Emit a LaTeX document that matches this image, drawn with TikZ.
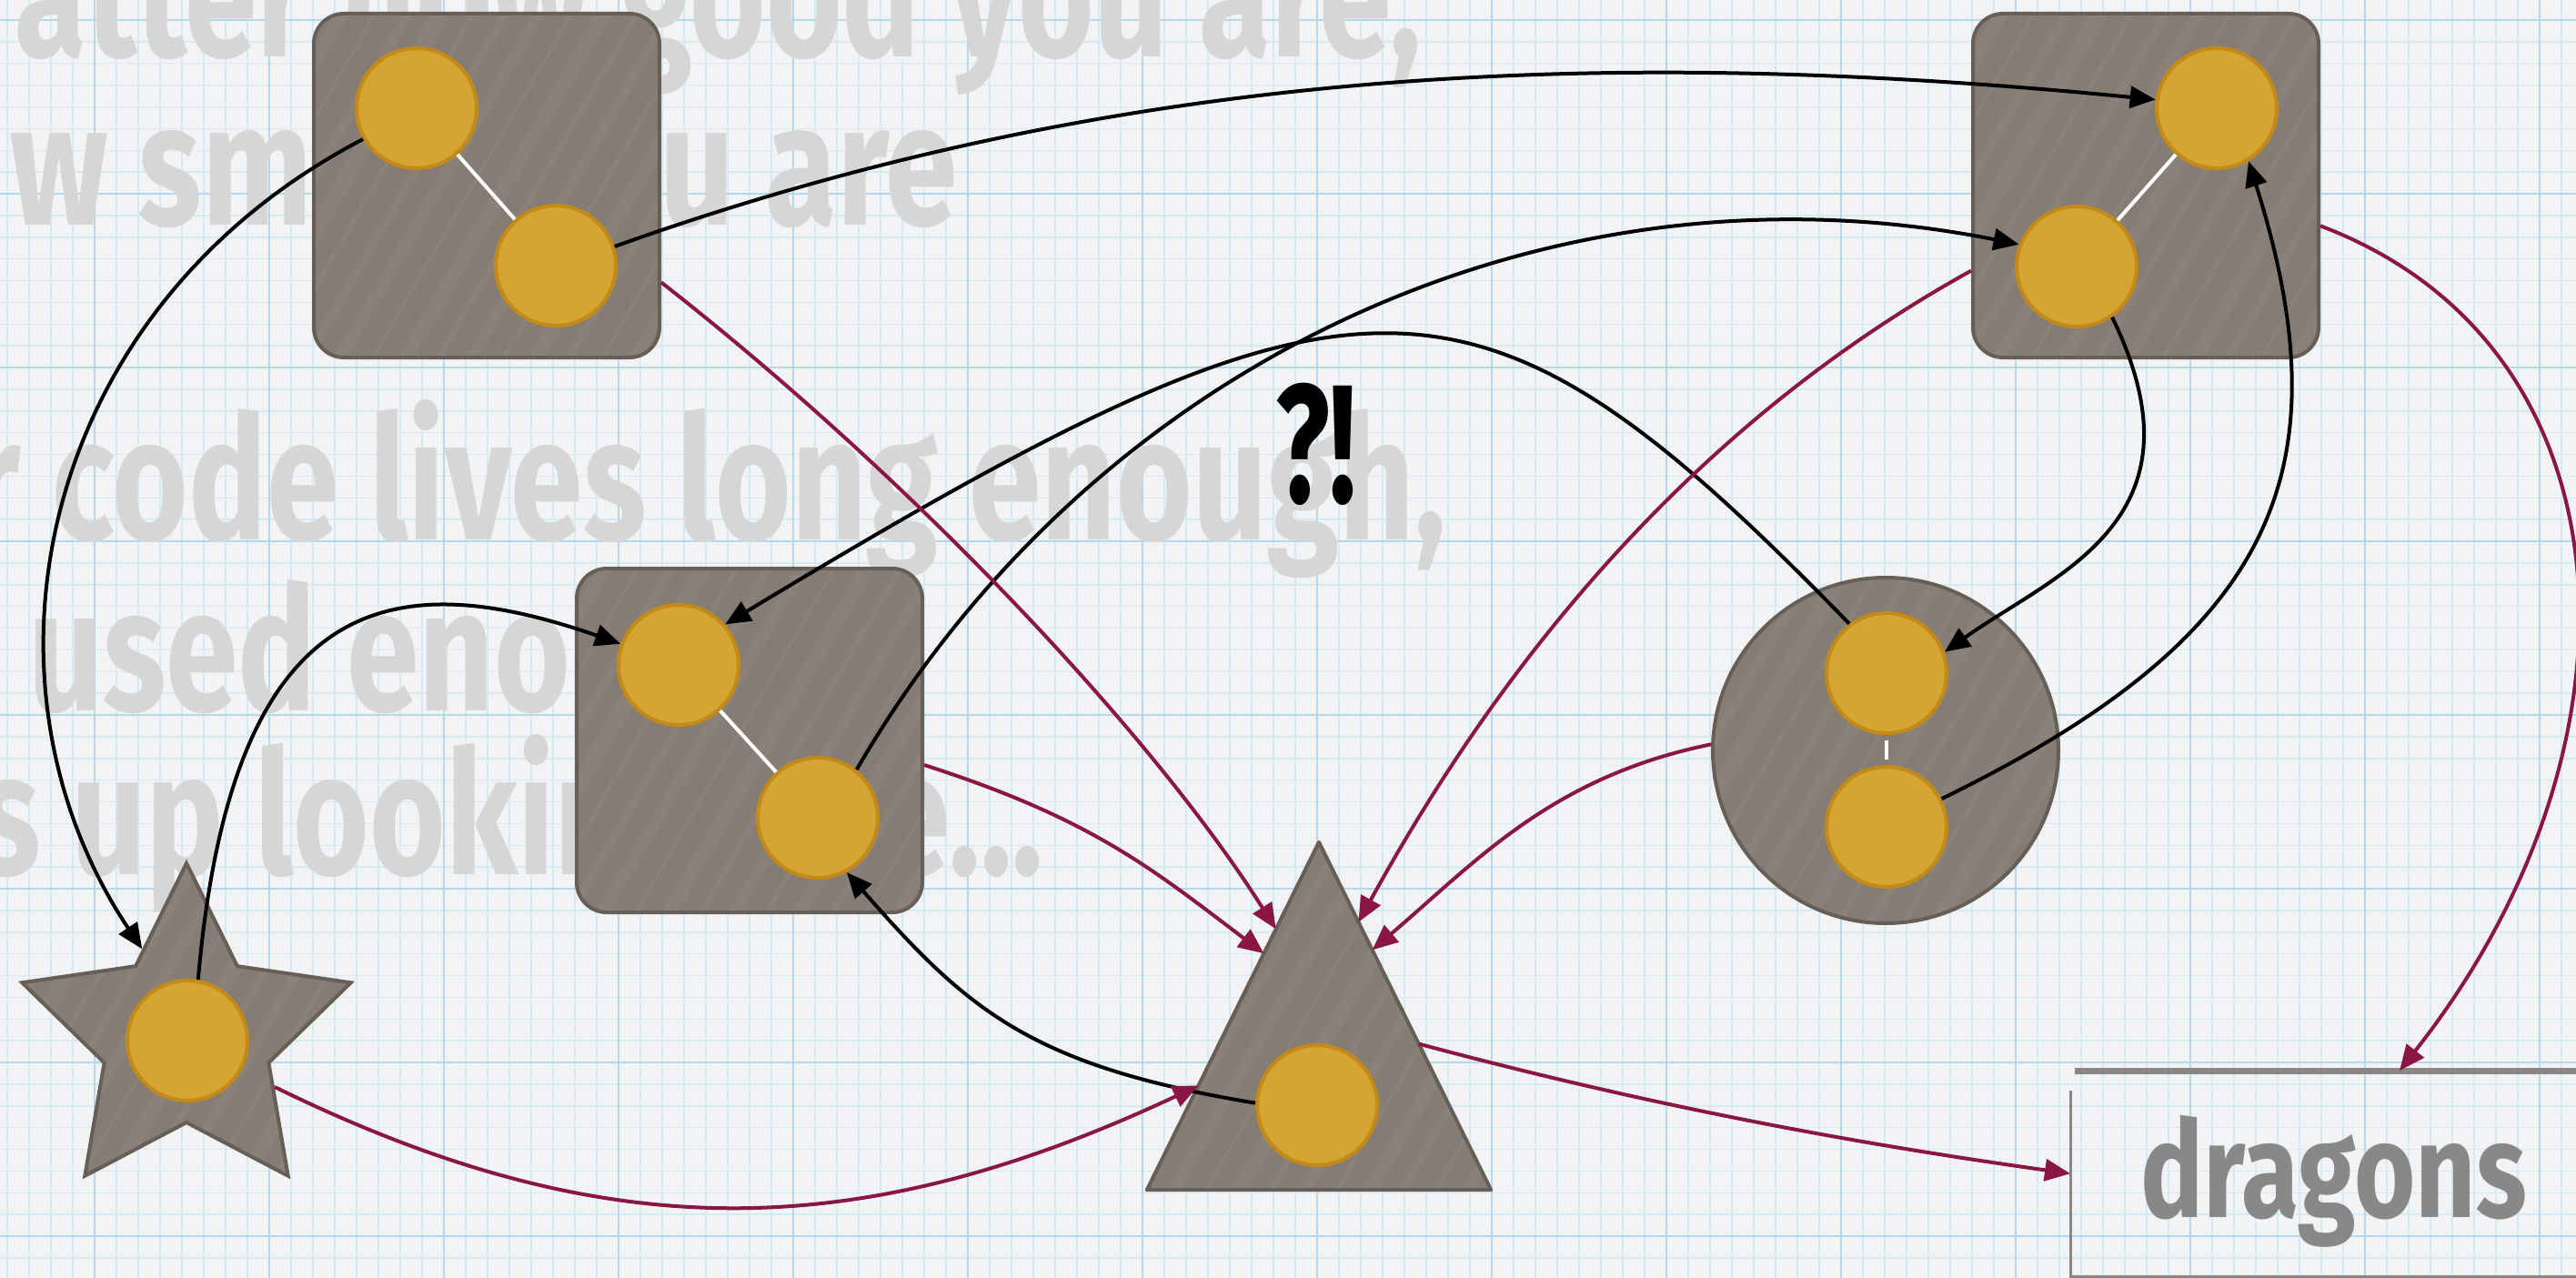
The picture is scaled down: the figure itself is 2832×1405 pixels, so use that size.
\documentclass[tikz,border=0pt]{standalone}
\usepackage{fontspec}
\newfontfamily\handfont{Fira Sans}
\usetikzlibrary{arrows.meta,shapes.geometric,calc}
\definecolor{paper}{HTML}{F1F3F4}
\definecolor{gridminor}{HTML}{D6EAF3}
\definecolor{gridmajor}{HTML}{B4D9EC}
\definecolor{bgtext}{HTML}{D6D6D6}
\definecolor{boxfill}{HTML}{857D74}
\definecolor{boxline}{HTML}{675F56}
\definecolor{gold}{HTML}{D4A532}
\definecolor{goldline}{HTML}{C38A17}
\definecolor{wine}{HTML}{8A1743}
\definecolor{dragongrey}{HTML}{888888}
\definecolor{frameline}{HTML}{8A8683}
\begin{document}
\begin{tikzpicture}[x=1pt,y=-1pt,
  streaks/.style={path picture={
    \foreach \k/\w in {0/6,1/14,2/4,3/10,4/18,5/5,6/9,7/13,8/4,9/16,10/7,11/11,12/5,13/15,14/8,15/4,16/12,17/6,18/10} {
      \draw[white, opacity=0.045, line width=\w pt]
        ($(path picture bounding box.south west)+(\k*36-240,30)$) -- ++(300,-520);
    }}},
  boxnode/.style={rectangle, rounded corners=33pt, minimum width=380pt, minimum height=378pt, fill=boxfill, draw=boxline, line width=4pt, inner sep=0pt, streaks},
  roundnode/.style={circle, minimum size=380pt, fill=boxfill, draw=boxline, line width=4pt, inner sep=0pt, streaks},
  starnode/.style={star, star points=5, star point ratio=2, minimum size=380pt, fill=boxfill, draw=boxline, line width=4pt, inner sep=0pt, streaks},
  shapeframe/.style={rectangle, inner sep=0pt},
  ball/.style={circle, minimum size=132pt, inner sep=0pt, fill=gold, draw=goldline, line width=4pt},
  link/.style={white, line width=4pt},
  blackarrow/.style={black, line width=4pt, -{Triangle[length=28pt,width=24pt]}},
  redarrow/.style={wine, line width=4pt, -{Triangle[length=28pt,width=24pt]}},
  bgline/.style={inner sep=0pt, text=bgtext, font=\handfont\bfseries\fontsize{190}{190}\selectfont},
]
\useasboundingbox (0,0) rectangle (2832,1405);
\begin{scope}
\clip (0,0) rectangle (2832,1405);
\fill[paper] (0,0) rectangle (2832,1405);
% grid
\foreach \i in {0,...,118} {
  \draw[gridminor, line width=1.5pt] ({8+24*\i},0) -- ({8+24*\i},1405);
}
\foreach \i in {0,...,58} {
  \draw[gridminor, line width=1.5pt] (0,{22+23.875*\i}) -- (2832,{22+23.875*\i});
}
\foreach \i in {0,...,14} {
  \draw[gridmajor, line width=2.5pt] ({104+192*\i},0) -- ({104+192*\i},1405);
}
\foreach \i in {0,...,7} {
  \draw[gridmajor, line width=2.5pt] (0,{22+191*\i}) -- (2832,{22+191*\i});
}
% background text
\node[bgline, anchor=base east] (txt1) at (1563,63) {\scalebox{0.755}[1]{atter how good you are,}};
\node[bgline, anchor=base east] (txt2) at (1053,247) {\scalebox{0.755}[1]{w smart you are}};
\node[bgline, anchor=base east] (txt3) at (1590,593) {\scalebox{0.755}[1]{r code lives long enough,}};
\node[bgline, anchor=base west] (txt4) at (31,781) {\scalebox{0.755}[1]{used enough,}};
\node[bgline, anchor=base east] (txt5) at (1147,961) {\scalebox{0.755}[1]{s up looking like...}};

% shapes
\node[boxnode] (a) at (535,204) {};
\node[boxnode] (b) at (2359,204) {};
\node[boxnode] (c) at (824,814) {};
\node[roundnode] (d) at (2073,825) {};
\node[shapeframe, minimum width=378pt, minimum height=382pt] (e) at (1450,1117) {};
\filldraw[fill=boxfill, draw=boxline, line width=4pt, line join=round, streaks] (e.south west) -- (e.north) -- (e.south east) -- cycle;
\node[starnode] (f) at (205,1139) {};

% balls
\node[ball] (a1) at (458,119) {};
\node[ball] (a2) at (611,292) {};
\node[ball] (b1) at (2437,119) {};
\node[ball] (b2) at (2283,293) {};
\node[ball] (c1) at (746,731) {};
\node[ball] (c2) at (899,899) {};
\node[ball] (d1) at (2074,740) {};
\node[ball] (d2) at (2074,909) {};
\node[ball] (e1) at (1448,1215) {};
\node[ball] (f1) at (206,1144) {};

\draw[link] (a1) -- (a2);
\draw[link] (b1) -- (b2);
\draw[link] (c1) -- (c2);
\draw[link, shorten <=6pt, shorten >=6pt] (d1) -- (d2);

% dragons frame
\node[shapeframe, minimum width=600pt, minimum height=226pt, anchor=north west] (g) at (2276,1177) {};
\draw[frameline, line width=7pt] ($(g.north west)+(5,0)$) -- (g.north east);
\draw[frameline, line width=3pt] ($(g.north west)+(0,22)$) -- (g.south west) -- (g.south east);
\node[anchor=base west, inner sep=0pt, text=dragongrey, font=\handfont\bfseries\fontsize{148}{148}\selectfont] (dragonlabel) at (2353,1338) {\scalebox{0.78}[1]{dragons}};

% ?!
\node[anchor=base, inner sep=0pt, font=\handfont\bfseries\fontsize{185}{185}\selectfont] (huh) at (1447,552) {\scalebox{0.67}[1]{?!}};

% black connectors
\draw[blackarrow] (a1.210) .. controls (40,340) and (-40,750) .. (f.117);
\draw[blackarrow] (a2.18) .. controls (1238,70) and (1775,51) .. (b1.172);
\draw[blackarrow] (c2.51) .. controls (1200,400) and (1700,165) .. (b2.159);
\draw[blackarrow] (d1.127) .. controls (1620,262) and (1500,262) .. (c1.41);
\draw[blackarrow] (f1.80) .. controls (255,650) and (430,620) .. (c1.160);
\draw[blackarrow] (e1.178) .. controls (1134,1172) and (1064,1111) .. (c2.298);
\draw[blackarrow] (b2.305) .. controls (2431,572) and (2260,630) .. (d1.20);
\draw[blackarrow] (d2.27) .. controls (2500,700) and (2580,520) .. (b1.301);

% red connectors
\draw[redarrow] (a.331) .. controls (1004,527) and (1267,807) .. ($(e.south west)!0.75!(e.north)$);
\draw[redarrow] (c.352) .. controls (1200,900) and (1265,954) .. ($(e.south west)!0.68!(e.north)$);
\draw[redarrow] (b.206.6) .. controls (1815,492) and (1614,795) .. ($(e.south east)!0.77!(e.north)$);
\draw[redarrow] (d.178) .. controls (1706,854) and (1624,946) .. ($(e.south east)!0.69!(e.north)$);
\draw[redarrow] (f.330) .. controls (661,1371) and (939,1371) .. ($(e.south west)!0.30!(e.north)$);
\draw[redarrow] ($(e.south east)!0.42!(e.north)$) .. controls (1804,1213) and (2024,1255) .. (g.west);
\draw[redarrow] (b.347) .. controls (2900,380) and (2920,820) .. ($(g.north west)!0.603!(g.north east)$);
\end{scope}
\end{tikzpicture}
\end{document}
